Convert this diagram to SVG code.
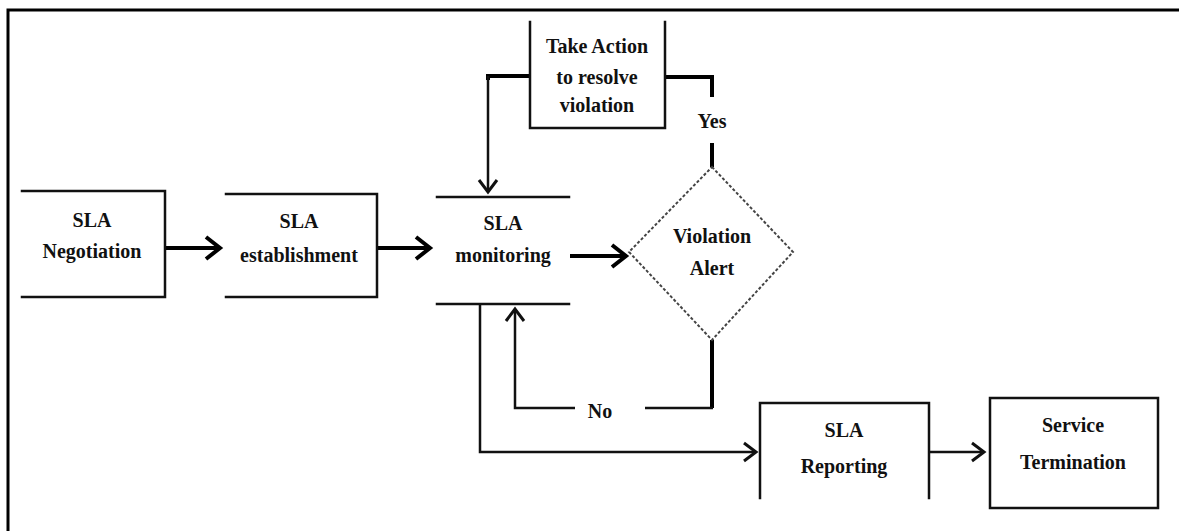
<svg xmlns="http://www.w3.org/2000/svg" width="1179" height="531" viewBox="0 0 1179 531">
<style>
.box{fill:none;stroke:#111;stroke-width:2.5;stroke-linecap:square}
.t{font-family:"Liberation Serif","Times New Roman",serif;font-weight:bold;font-size:20px;fill:#111;text-anchor:middle}
.thick{fill:none;stroke:#000;stroke-width:4}
.thin{fill:none;stroke:#111;stroke-width:2.5}
.dia{fill:#fff;stroke:#444;stroke-width:2;stroke-dasharray:3 2}
</style>
<defs>
<marker id="big" markerUnits="userSpaceOnUse" markerWidth="40" markerHeight="40" viewBox="-20 -20 40 40" refX="0" refY="0" orient="auto" overflow="visible">
<path d="M-14,-11 L0,0 L-14,11" fill="none" stroke="#000" stroke-width="4"/>
</marker>
<marker id="small" markerUnits="userSpaceOnUse" markerWidth="40" markerHeight="40" viewBox="-20 -20 40 40" refX="0" refY="0" orient="auto" overflow="visible">
<path d="M-12,-9 L0,0 L-12,9" fill="none" stroke="#111" stroke-width="3"/>
</marker>
</defs>
<rect width="1179" height="531" fill="#fff"/>
<rect x="8" y="10" width="1300" height="700" fill="none" stroke="#000" stroke-width="3"/>

<g id="connectors">
<line class="thick" x1="166" y1="248" x2="220" y2="248" marker-end="url(#big)"/>
<line class="thick" x1="377" y1="248" x2="430" y2="248" marker-end="url(#big)"/>
<line class="thick" x1="570" y1="256" x2="626" y2="256" marker-end="url(#big)"/>
<polyline class="thick" points="530,76 488,76 488,80"/>
<line class="thin" x1="488" y1="76" x2="488" y2="192" marker-end="url(#small)"/>
<polyline class="thick" points="665,77 712,77 712,97"/>
<line class="thick" x1="712" y1="143" x2="712" y2="167"/>
<line class="thick" x1="712" y1="340" x2="712" y2="408"/>
<line class="thin" x1="713" y1="408" x2="645" y2="408"/>
<polyline class="thin" points="575,408 515,408 515,309" marker-end="url(#small)"/>
<polyline class="thin" points="480,304 480,452 756,452" marker-end="url(#small)"/>
<line class="thin" x1="929" y1="452" x2="984" y2="452" marker-end="url(#small)"/>
</g>

<g id="n-negotiation">
<polyline class="box" points="22,191 165,191 165,297 22,297"/>
<text class="t" x="92" y="227">SLA</text>
<text class="t" x="92" y="258">Negotiation</text>
</g>
<g id="n-establishment">
<polyline class="box" points="226,194 377,194 377,297 226,297"/>
<text class="t" x="299" y="228">SLA</text>
<text class="t" x="299" y="262">establishment</text>
</g>
<g id="n-monitoring">
<line class="box" x1="437" y1="197" x2="569" y2="197"/>
<line class="box" x1="437" y1="304" x2="569" y2="304"/>
<text class="t" x="503" y="230">SLA</text>
<text class="t" x="503" y="262">monitoring</text>
</g>
<g id="n-action">
<polyline class="box" points="530,22 530,128 665,128 665,22"/>
<text class="t" x="597" y="53" font-size="18">Take Action</text>
<text class="t" x="597" y="84" font-size="18">to resolve</text>
<text class="t" x="597" y="112" font-size="18">violation</text>
</g>
<g id="n-alert">
<polygon class="dia" points="712,167 793,252 712,340 629,252"/>
<text class="t" x="712" y="243">Violation</text>
<text class="t" x="712" y="275">Alert</text>
</g>
<g id="n-reporting">
<polyline class="box" points="760,498 760,403 929,403 929,498"/>
<text class="t" x="844" y="437">SLA</text>
<text class="t" x="844" y="473">Reporting</text>
</g>
<g id="n-termination">
<rect class="box" x="990" y="398" width="168" height="110"/>
<text class="t" x="1073" y="432">Service</text>
<text class="t" x="1073" y="469">Termination</text>
</g>
<g id="labels">
<text class="t" x="712" y="128" font-size="17">Yes</text>
<text class="t" x="600" y="418" font-size="17">No</text>
</g>
</svg>
